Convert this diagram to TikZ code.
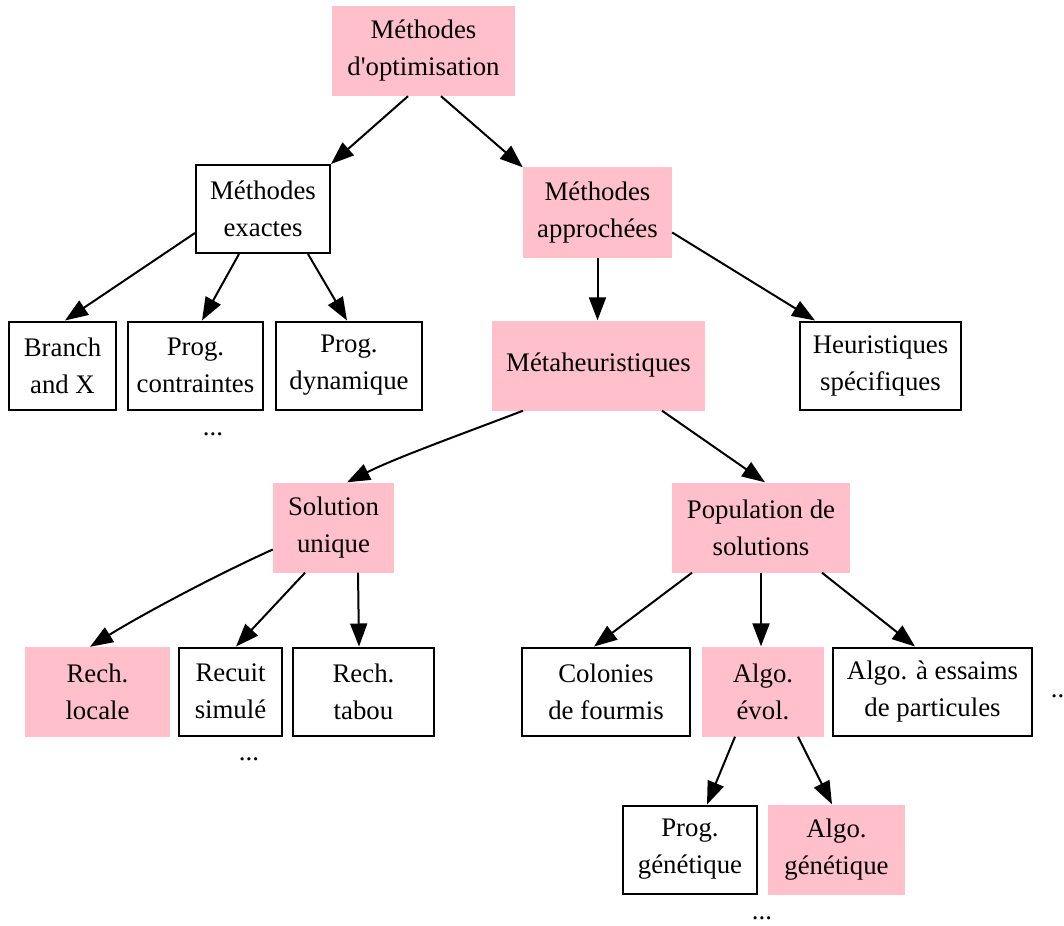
\documentclass[tikz,border=0pt]{standalone}
\usepackage{fontspec}
\setmainfont{Liberation Serif}
\usetikzlibrary{arrows.meta}
\definecolor{pinkfill}{RGB}{255,192,203}
\begin{document}
\begin{tikzpicture}[x=1pt,y=-1pt,
  base/.style={rectangle, inner sep=0pt, align=center, minimum height=90pt, font=\fontsize{26.8}{37}\selectfont},
  pinkbox/.style={base, fill=pinkfill},
  whitebox/.style={base, draw=black, line width=2pt, minimum height=88pt},
  dotsnode/.style={inner sep=0pt, anchor=base, font=\fontsize{26.8}{37}\selectfont},
  conn/.style={line width=2pt, -{Triangle[length=23pt,width=17pt]}}
]
\useasboundingbox (0,0) rectangle (1064,925);

\node[pinkbox, minimum width=183pt] (root) at (423.5,51) {Méthodes\\d\textquotesingle optimisation};
\node[whitebox, minimum width=134pt] (exactes) at (263,209) {Méthodes\\exactes};
\node[pinkbox, minimum width=149pt] (approchees) at (597.5,212.5) {Méthodes\\approchées};
\node[whitebox, minimum width=107pt] (branch) at (62.5,365.5) {Branch\\and X};
\node[whitebox, minimum width=135pt] (contraintes) at (195.5,365.5) {Prog.\\contraintes};
\node[whitebox, minimum width=146pt] (dynamique) at (349,365.5) {Prog.\\dynamique};
\node[dotsnode] (dotsA) at (213,435) {...};
\node[pinkbox, minimum width=213pt] (meta) at (598.5,365.5) {Métaheuristiques};
\node[whitebox, minimum width=161pt] (heur) at (880.5,365.5) {Heuristiques\\spécifiques};
\node[pinkbox, minimum width=121pt] (solution) at (333.5,527.5) {Solution\\unique};
\node[pinkbox, minimum width=178pt] (population) at (761,527.5) {Population de\\solutions};
\node[pinkbox, minimum width=145pt] (locale) at (97.5,692) {Rech.\\locale};
\node[whitebox, minimum width=103pt] (recuit) at (230.5,691.5) {Recuit\\simulé};
\node[whitebox, minimum width=141pt] (tabou) at (363.5,691.5) {Rech.\\tabou};
\node[dotsnode] (dotsB) at (249,760) {...};
\node[whitebox, minimum width=168pt] (colonies) at (606,691.5) {Colonies\\de fourmis};
\node[pinkbox, minimum width=122pt] (evol) at (763,691.5) {Algo.\\évol.};
\node[whitebox, minimum width=199pt] (essaims) at (932.5,691.5) {Algo. à essaims\\de particules};
\node[dotsnode] (dotsC) at (1061,697) {...};
\node[whitebox, minimum width=134pt] (progGen) at (690,849.5) {Prog.\\génétique};
\node[pinkbox, minimum width=137pt] (algoGen) at (836.5,849.5) {Algo.\\génétique};
\node[dotsnode] (dotsD) at (762,919) {...};

\draw[conn] ([xshift=-15.5pt]root.south) -- (exactes.north east);
\draw[conn] ([xshift=17.5pt]root.south) -- (approchees.north west);
\draw[conn] ([yshift=-24pt]exactes.west) -- ([xshift=2.5pt]branch.north);
\draw[conn] ([xshift=-24pt]exactes.south) -- ([xshift=6.5pt]contraintes.north);
\draw[conn] ([xshift=45pt]exactes.south) -- ([xshift=-2pt]dynamique.north);
\draw[conn] (approchees.south) -- (approchees.south |- meta.north);
\draw[conn] ([yshift=-20pt]approchees.east) -- ([xshift=-65.5pt]heur.north);
\draw[conn] ([xshift=-75.5pt]meta.south) .. controls +(-60,23) and +(50,-25) .. ([xshift=13.5pt]solution.north);
\draw[conn] ([xshift=63.5pt]meta.south) -- ([xshift=4pt]population.north);
\draw[conn] ([yshift=-22pt]solution.west) .. controls +(-60,27) and +(50,-31) .. ([xshift=-7.5pt]locale.north);
\draw[conn] ([xshift=-28.5pt]solution.south) -- ([xshift=5.5pt]recuit.north);
\draw[conn] ([xshift=24.5pt]solution.south) -- ([xshift=-4.5pt]tabou.north);
\draw[conn] ([xshift=-69pt]population.south) -- ([xshift=-12pt]colonies.north);
\draw[conn] (population.south) -- ([xshift=-2pt]evol.north);
\draw[conn] ([xshift=61pt]population.south) -- ([xshift=-17.5pt]essaims.north);
\draw[conn] ([xshift=-28pt]evol.south) -- ([xshift=17pt]progGen.north);
\draw[conn] ([xshift=35pt]evol.south) -- ([xshift=-4.5pt]algoGen.north);
\end{tikzpicture}
\end{document}
